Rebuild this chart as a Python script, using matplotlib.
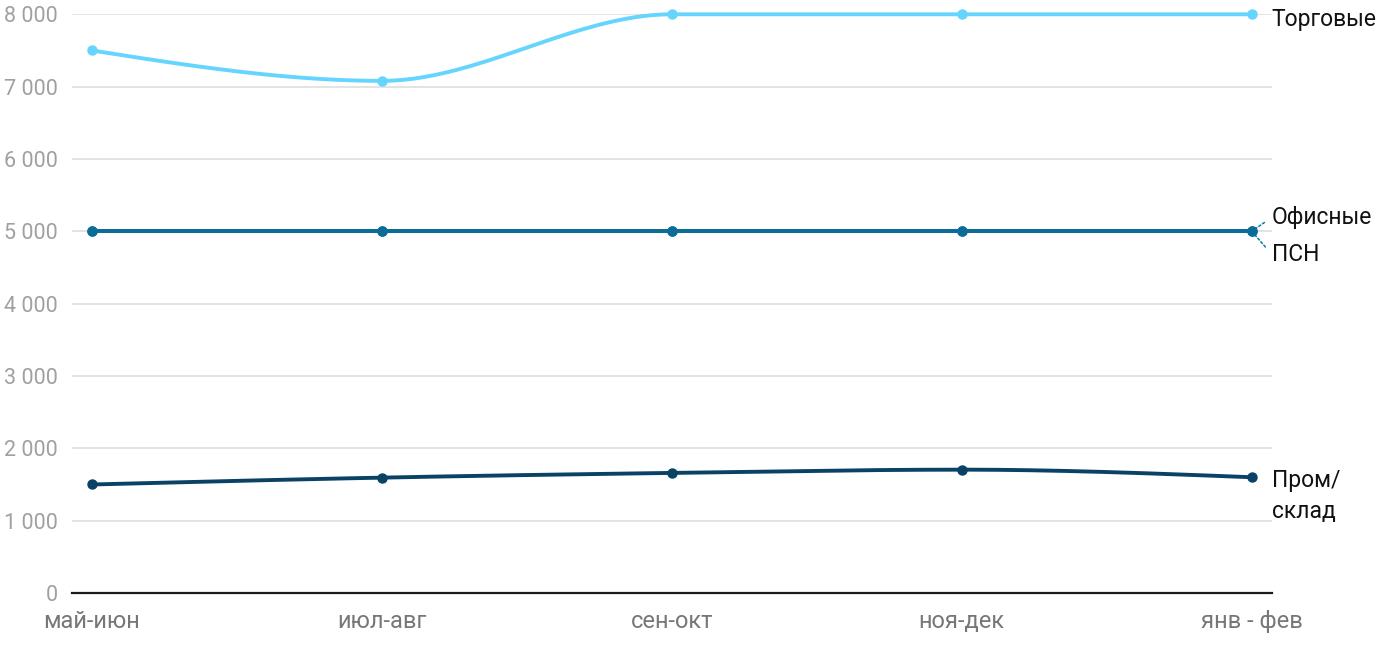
import matplotlib
matplotlib.use("Agg")
import matplotlib.pyplot as plt
import numpy as np

periods = ["май-июн", "июл-авг", "сен-окт", "ноя-дек", "янв - фев"]
trade = [7500, 7080, 8000, 8000, 8000]
office = [5000, 5000, 5000, 5000, 5000]
psn = [5000, 5000, 5000, 5000, 5000]
industrial = [1500, 1595, 1660, 1705, 1600]

y_ticks = [0, 1000, 2000, 3000, 4000, 5000, 6000, 7000, 8000]

COLOR_TRADE = "#66d5fd"
COLOR_PSN = "#0b7aa5"
COLOR_OFFICE = "#0b6c97"
COLOR_IND = "#0a4266"


def monotone_curve(x, y, steps=40):
    """Smooth line through the points like d3.curveMonotoneX."""
    x = np.asarray(x, dtype=float)
    y = np.asarray(y, dtype=float)
    h = np.diff(x)
    s = np.diff(y) / h
    n = len(x)
    t = np.zeros(n)
    for i in range(1, n - 1):
        p = (s[i - 1] * h[i] + s[i] * h[i - 1]) / (h[i - 1] + h[i])
        t[i] = (np.sign(s[i - 1]) + np.sign(s[i])) * min(
            abs(s[i - 1]), abs(s[i]), 0.5 * abs(p)
        )
    t[0] = (3 * s[0] - t[1]) / 2 if h[0] else 0
    t[-1] = (3 * s[-1] - t[-2]) / 2 if h[-1] else 0
    xs, ys = [], []
    for i in range(n - 1):
        u = np.linspace(0, 1, steps)
        h00 = 2 * u**3 - 3 * u**2 + 1
        h10 = u**3 - 2 * u**2 + u
        h01 = -2 * u**3 + 3 * u**2
        h11 = u**3 - u**2
        xs.append(x[i] + u * h[i])
        ys.append(h00 * y[i] + h10 * h[i] * t[i] + h01 * y[i + 1] + h11 * h[i] * t[i + 1])
    return np.concatenate(xs), np.concatenate(ys)


plt.rcParams["font.family"] = ["Roboto", "DejaVu Sans"]

fig = plt.figure(figsize=(14, 6.5), dpi=100)
ax = fig.add_axes([0.0514, 0.0877, 0.857, 0.8903])

x = np.arange(len(periods))

# ПСН first, Офисные drawn over it (same values)
for values, color in [
    (trade, COLOR_TRADE),
    (psn, COLOR_PSN),
    (office, COLOR_OFFICE),
    (industrial, COLOR_IND),
]:
    cx, cy = monotone_curve(x, values)
    ax.plot(cx, cy, color=color, linewidth=2.8, solid_capstyle="round",
            zorder=3, clip_on=False)
    ax.plot(x, values, "o", color=color, markersize=6.5, zorder=4, clip_on=False)

ax.set_xlim(-20 / 290, 4 + 20 / 290)
ax.set_ylim(0, 8000)
ax.set_yticks(y_ticks)
ax.set_yticklabels([f"{v:,}".replace(",", " ") for v in y_ticks])
ax.set_xticks(x)
ax.set_xticklabels(periods)

ax.grid(axis="y", color="#e3e3e3", linewidth=1.4, zorder=0)
ax.set_axisbelow(True)
for side in ["top", "right", "left"]:
    ax.spines[side].set_visible(False)
ax.spines["bottom"].set_color("#1a1a1a")
ax.spines["bottom"].set_linewidth(1.6)
ax.spines["bottom"].set_zorder(2)

ax.tick_params(axis="y", length=0, pad=10, labelsize=15.5, labelcolor="#a0a0a0")
ax.tick_params(axis="x", length=0, pad=12, labelsize=17, labelcolor="#777777")

last = len(periods) - 1
label_kw = dict(fontsize=16.5, color="#111111", ha="left", va="center",
                textcoords="offset pixels", annotation_clip=False)

ax.annotate("Торговые", xy=(last, trade[-1]), xytext=(20, -5), **label_kw)
ax.annotate("Пром/\nсклад", xy=(last, industrial[-1]), xytext=(20, -19),
            linespacing=1.45, **label_kw)

leader = dict(arrowstyle="-", linestyle=(0, (1.5, 1.5)), color=COLOR_PSN,
              linewidth=1.1, shrinkA=4, shrinkB=4, relpos=(0, 0.5))
ax.annotate("Офисные", xy=(last, office[-1]), xytext=(20, 14),
            arrowprops=leader, **label_kw)
ax.annotate("ПСН", xy=(last, psn[-1]), xytext=(20, -23),
            arrowprops=leader, **label_kw)

fig.savefig("out.png", dpi=100)
